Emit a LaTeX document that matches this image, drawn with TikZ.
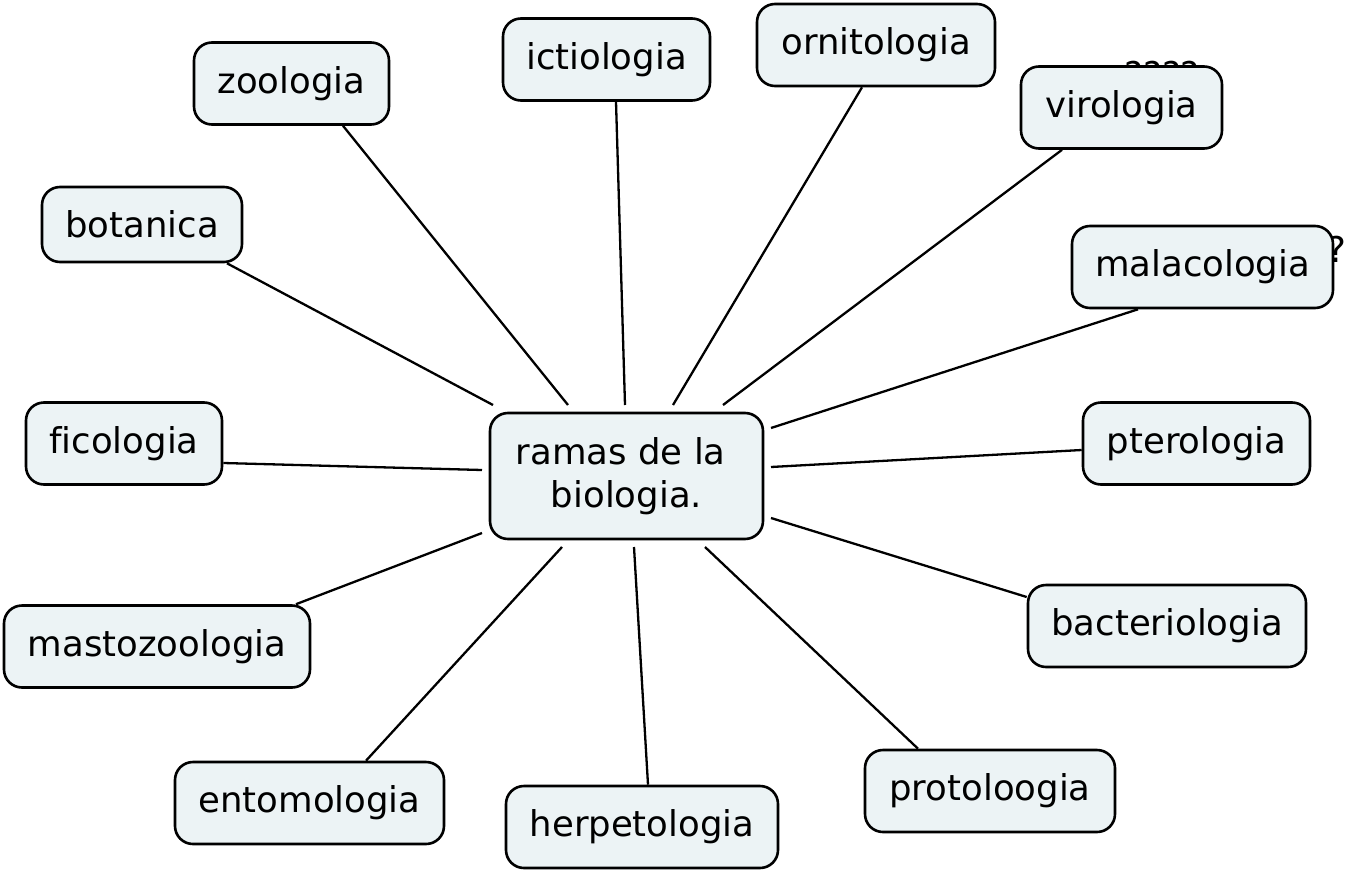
\documentclass[tikz,border=0pt]{standalone}
\usepackage{fontspec}
\setmainfont[Ligatures=NoCommon]{DejaVu Sans}
\usetikzlibrary{positioning}

\definecolor{boxfill}{RGB}{236,243,245}

\tikzset{
  branch/.style={draw, line width=2.6pt, rounded corners=18pt,
                 fill=boxfill, inner sep=0pt, minimum height=82pt,
                 font=\fontsize{35.5}{43}\selectfont},
  link/.style={line width=2.3pt},
  hidden/.style={inner sep=0pt, anchor=base, font=\fontsize{35.5}{43}\selectfont},
}

\begin{document}
\begin{tikzpicture}[x=1pt, y=-1pt]
  \useasboundingbox (0,0) rectangle (1357,875);

  %% -- half-covered marks (behind the boxes) ------------------
  \node[hidden] (qvir) at (1162,88) {????};
  \node[hidden] (qmal) at (1337,262) {?};

  %% -- central node --------------------------------------------
  \node[branch, minimum width=273pt, minimum height=126pt,
        align=center, outer sep=8pt] (hub) at (626.5,476)
    {\mbox{ramas de la\ }\\ biologia.};

  %% -- branches ------------------------------------------------
  \node[branch, minimum width=195pt] (zoo) at (291.5,83.5) {zoologia};
  \node[branch, minimum width=207pt] (ict) at (606.5,59.5) {ictiologia};
  \node[branch, minimum width=238pt] (orn) at (876,45) {ornitologia};
  \node[branch, minimum width=201pt] (vir) at (1121.5,107.5) {virologia};
  \node[branch, minimum width=200pt, minimum height=75pt]
    (bot) at (142,224.5) {botanica};
  \node[branch, minimum width=261pt] (mal) at (1202.5,267) {malacologia};
  \node[branch, minimum width=196pt] (fic) at (124,443.5) {ficologia};
  \node[branch, minimum width=227pt] (pte) at (1196.5,443.5) {pterologia};
  \node[branch, minimum width=306pt] (mas) at (157,646.5) {mastozoologia};
  \node[branch, minimum width=278pt] (bac) at (1167,626) {bacteriologia};
  \node[branch, minimum width=269pt] (ent) at (309.5,803) {entomologia};
  \node[branch, minimum width=272pt] (her) at (642,827) {herpetologia};
  \node[branch, minimum width=250pt] (pro) at (990,791) {protoloogia};

  %% -- links ---------------------------------------------------
  \draw[link] (343,0 |- zoo.south) -- (568,0 |- hub.north);
  \draw[link] (616,0 |- ict.south) -- (625,0 |- hub.north);
  \draw[link] (862,0 |- orn.south) -- (673,0 |- hub.north);
  \draw[link] (1062,0 |- vir.south) -- (723,0 |- hub.north);
  \draw[link] (227,0 |- bot.south) -- (493,0 |- hub.north);
  \draw[link] (1138,0 |- mal.south) -- (hub.east |- 0,428);
  \draw[link] (fic.east |- 0,463) -- (hub.west |- 0,470);
  \draw[link] (pte.west |- 0,450) -- (hub.east |- 0,467);
  \draw[link] (296,0 |- mas.north) -- (hub.west |- 0,533);
  \draw[link] (bac.west |- 0,597) -- (hub.east |- 0,518);
  \draw[link] (366,0 |- ent.north) -- (562,0 |- hub.south);
  \draw[link] (648,0 |- her.north) -- (634,0 |- hub.south);
  \draw[link] (918,0 |- pro.north) -- (705,0 |- hub.south);

\end{tikzpicture}
\end{document}
